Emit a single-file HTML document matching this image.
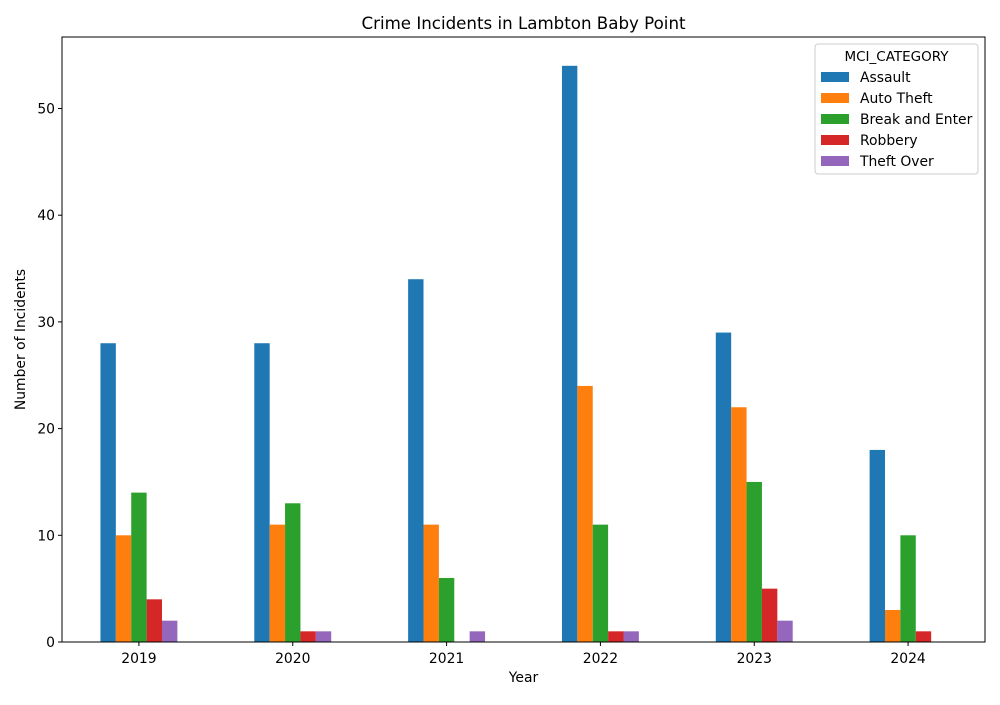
<!DOCTYPE html>
<html><head><meta charset="utf-8"><style>
body{margin:0;background:#fff;}
svg text{font-family:"DejaVu Sans","Liberation Sans",sans-serif;fill:#000;}
</style></head><body>
<svg id="chart" width="1000" height="700" xmlns="http://www.w3.org/2000/svg">
<rect width="1000" height="700" fill="#fff"/>
<text x="523.5" y="29" font-size="16.67" text-anchor="middle">Crime Incidents in Lambton Baby Point</text>
<g id="bars"></g>
<g id="axes"></g>
<rect x="62" y="37" width="923" height="605" fill="none" stroke="#000" stroke-width="1"/>
<text x="523.5" y="682" font-size="13.9" text-anchor="middle">Year</text>
<text transform="translate(25,339.5) rotate(-90)" font-size="13.9" text-anchor="middle">Number of Incidents</text>
<g id="legend"></g>
</svg>
<script>
const categories=["2019","2020","2021","2022","2023","2024"];
const seriesNames=["Assault","Auto Theft","Break and Enter","Robbery","Theft Over"];
const assault=[28,28,34,54,29,18];
const autoTheft=[10,11,11,24,22,3];
const breakEnter=[14,13,6,11,15,10];
const robbery=[4,1,0,1,5,1];
const theftOver=[2,1,1,1,2,0];
const yTicks=[0,10,20,30,40,50];
const seriesValues=[assault,autoTheft,breakEnter,robbery,theftOver];
const colors=["#1f77b4","#ff7f0e","#2ca02c","#d62728","#9467bd"];
const NS="http://www.w3.org/2000/svg";
const L=62,R=985,T=37,B=642;
const allVals=seriesValues.flat();
const yMax=Math.max(...allVals)*1.05;
const y=v=>B-(v/yMax)*(B-T);
const step=(R-L)/categories.length;
const x=i=>L+step*(i+0.5);
const bw=step*0.5/seriesNames.length;
function mk(tag,attrs,parent){const e=document.createElementNS(NS,tag);for(const k in attrs)e.setAttribute(k,attrs[k]);parent.appendChild(e);return e;}
const gb=document.getElementById('bars');
seriesValues.forEach((vals,s)=>{vals.forEach((v,i)=>{
 const r=mk('rect',{x:x(i)-step*0.25+s*bw,y:y(v),width:bw,height:B-y(v),fill:colors[s]},gb);
 
 
});});
const ga=document.getElementById('axes');
yTicks.forEach(t=>{
 mk('line',{x1:L-4,x2:L,y1:y(t),y2:y(t),stroke:'#000'},ga);
 const tx=mk('text',{x:L-7,y:y(t)+5,'font-size':13.9,'text-anchor':'end'},ga);tx.textContent=t;
 
 
});
categories.forEach((c,i)=>{
 mk('line',{x1:x(i),x2:x(i),y1:B,y2:B+4,stroke:'#000'},ga);
 const tx=mk('text',{x:x(i),y:B+21,'font-size':13.9,'text-anchor':'middle'},ga);tx.textContent=c;
 
 
});
const gl=document.getElementById('legend');


mk('rect',{x:815,y:44,width:163,height:130,rx:3,fill:'#fff',stroke:'#ccc'},gl);
const lt=mk('text',{x:896.5,y:61,'font-size':13.5,'text-anchor':'middle'},gl);lt.textContent='MCI_CATEGORY';
seriesNames.forEach((n,s)=>{
 const yy=77+s*21;
 const g=mk('g',{},gl);
 
 
 mk('rect',{x:821,y:yy-5,width:28,height:10,fill:colors[s]},g);
 const t=mk('text',{x:860,y:yy+5,'font-size':13.9},g);t.textContent=n;
});
</script>
</body></html>
